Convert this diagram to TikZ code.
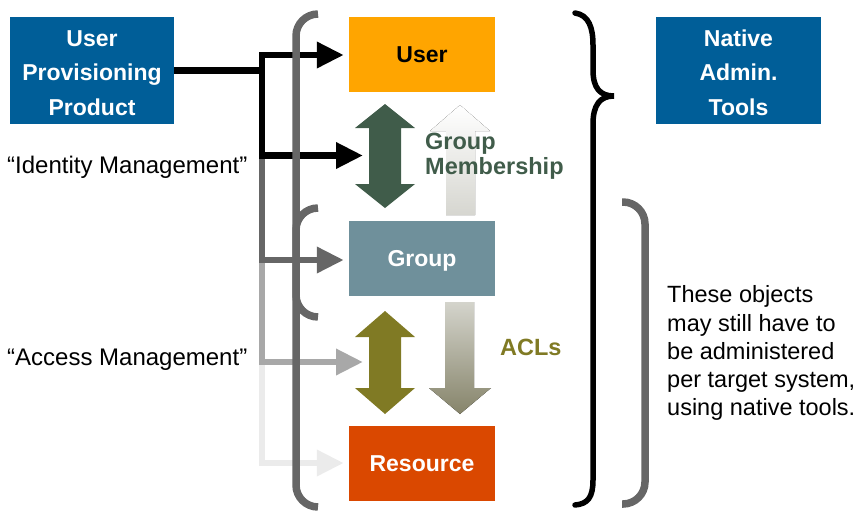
\documentclass[tikz,border=0pt]{standalone}
\usepackage{fontspec}
\setmainfont{Liberation Sans}
\usetikzlibrary{arrows.meta}

\definecolor{navy}{HTML}{005E98}
\definecolor{userorange}{HTML}{FFA500}
\definecolor{groupteal}{HTML}{6F909B}
\definecolor{resred}{HTML}{DA4800}
\definecolor{membergreen}{HTML}{405C4A}
\definecolor{aclolive}{HTML}{807A24}
\definecolor{darkline}{HTML}{666666}
\definecolor{midline}{HTML}{A8A8A8}
\definecolor{paleline}{HTML}{EBEBEB}
\definecolor{memberbottom}{HTML}{D6D6D0}
\definecolor{acltop}{HTML}{D4D4CC}
\definecolor{aclbottom}{HTML}{86846A}

\begin{document}
\begin{tikzpicture}[x=1pt,y=-1pt,
  bluebox/.style={fill=navy, text=white, align=center, inner sep=0pt,
    font=\fontsize{23}{34.5}\selectfont\bfseries,
    minimum width=164pt, minimum height=107pt},
  objbox/.style={inner sep=0pt, minimum width=146pt, minimum height=75pt,
    font=\fontsize{23}{28}\selectfont\bfseries,
    text height=16.5pt, text depth=0pt},
  conn/.style={line width=6.5pt, line join=miter,
    -{Triangle[length=27pt,width=25pt]}},
  bracket/.style={draw=darkline, line width=7.5pt, rounded corners=22pt},
  note/.style={inner sep=0pt, font=\fontsize{23.5}{28.3}\selectfont},
  quote/.style={inner sep=0pt, anchor=base west, font=\fontsize{24}{28}\selectfont},
  rellabel/.style={inner sep=0pt, align=left, font=\fontsize{23.5}{25}\selectfont\bfseries}]

\useasboundingbox (0,0) rectangle (857,512);

% blue tool boxes (a strut on the first line sets the text a little lower)
\node[bluebox] (upp) at (92,70.5) {\rule{0pt}{20.5pt}User\\Provisioning\\Product};
\node[bluebox, minimum width=165pt] (nat) at (738.5,70.5) {\rule{0pt}{20.5pt}Native\\Admin.\\Tools};

% managed objects
\node[objbox, fill=userorange, text=black] (user) at (422,54.5) {User};
\node[objbox, fill=groupteal, text=white] (group) at (422,258.5) {Group};
\node[objbox, fill=resred, text=white] (res) at (422,463) {Resource};

% relationship arrows
\fill[top color=white, bottom color=memberbottom]
  (460,105) -- (490,131) -- (475,131) -- (475,215) -- (446,215)
  -- (446,131) -- (430,131) -- cycle;
\fill[top color=acltop, bottom color=aclbottom]
  (445,302) -- (474,302) -- (474,388) -- (491,388) -- (460,414)
  -- (429,388) -- (445,388) -- cycle;
\fill[membergreen]
  (385,104) -- (415,128) -- (401,128) -- (401,184) -- (415,184) -- (385,208)
  -- (355,184) -- (369,184) -- (369,128) -- (355,128) -- cycle;
\fill[aclolive]
  (385,311) -- (415,337) -- (401,337) -- (401,388) -- (415,388) -- (385,414)
  -- (355,388) -- (369,388) -- (369,337) -- (355,337) -- cycle;
\coordinate (gmL) at (369,155.5);
\coordinate (aclL) at (369,362);

\node[rellabel, text=membergreen, anchor=north west] (gmlabel) at (425,133) {Group\\Membership};
\node[inner sep=0pt, anchor=base west, text=aclolive,
  font=\fontsize{23.5}{28}\selectfont\bfseries] (acllabel) at (500,355) {ACLs};

% provisioning connectors, fading out towards access management
\coordinate (bTop) at (262,55);
\coordinate (bMid) at (262,155.5);
\coordinate (gTop) at (262,158.75);
\coordinate (gMid) at (262,260);
\coordinate (mTop) at (262,263.25);
\coordinate (mMid) at (262,362);
\coordinate (pTop) at (262,365.25);
\coordinate (pMid) at (262,463);

\draw[conn, draw=paleline, shorten >=5pt] (pTop) -- (pMid) -- (pMid -| res.west);
\draw[conn, draw=midline, shorten >=6pt] (mTop) -- (mMid) -- (aclL);
\draw[conn, draw=darkline, shorten >=5pt] (gTop) -- (gMid) -- (gMid -| group.west);
\draw[conn, draw=black, shorten >=6pt] (bTop) -- (bMid) -- (gmL);
\draw[conn, draw=black, shorten >=5pt] (bMid) -- (bTop) -- (bTop -| user.west);
\draw[line width=6.5pt] (upp.east |- 0,70.5) -- (265,70.5);

% brackets around the object stack
\draw[bracket] (318,14) -- (296,14) -- (296,507) -- (318,507);
\draw[bracket] (318,208) -- (296,208) -- (296,317) -- (318,317);
\draw[bracket] (622,202) -- (645,202) -- (645,504) -- (622,504);

% curly brace for the native admin tools
\draw[line width=5.5pt, line cap=round]
  (575,13) .. controls (589,15) and (593,28) .. (593,45) -- (593,70)
  .. controls (593,88) and (600,96) .. (614,96)
  .. controls (600,96) and (593,105) .. (593,124) -- (593,480)
  .. controls (593,497) and (588,504) .. (575,505);

% explanatory texts
\node[quote] (idm) at (7,173) {“Identity Management”};
\node[quote] (acm) at (7,365) {“Access Management”};
\node[note, align=left, anchor=north west] (expl) at (667,285.5)
  {These objects\\may still have to\\be administered\\per target system,\\using native tools.};

\end{tikzpicture}
\end{document}
